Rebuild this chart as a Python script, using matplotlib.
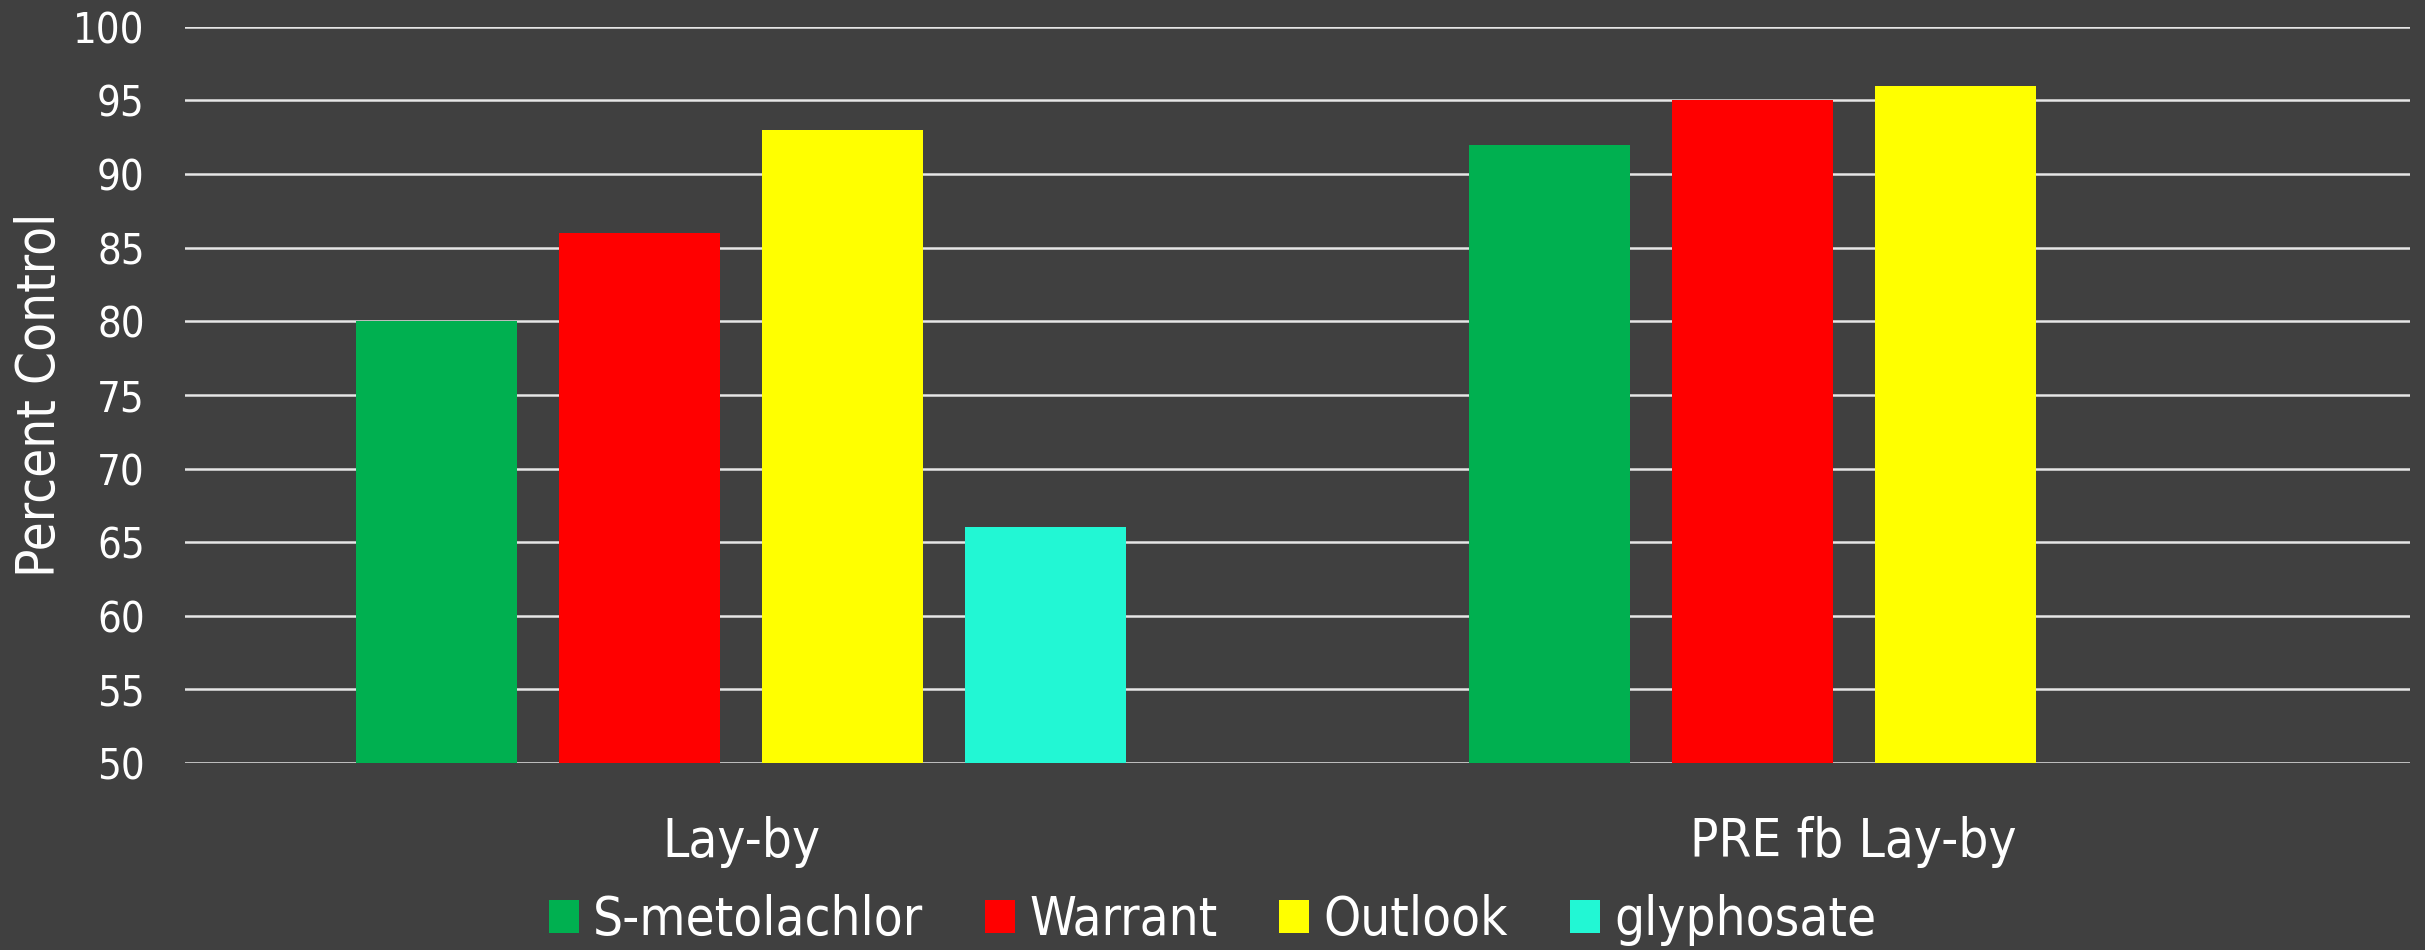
import numpy as np
import matplotlib.pyplot as plt

groups = ["Lay-by", "PRE fb Lay-by"]
treatments = ["S-metolachlor", "Warrant", "Outlook", "glyphosate"]
smetolachlor = [80, 92]
warrant = [86, 95]
outlook = [93, 96]
glyphosate = [66, np.nan]  # not applied in PRE fb Lay-by

series = [smetolachlor, warrant, outlook, glyphosate]
colors = ["#00b050", "#ff0000", "#ffff00", "#22f7d4"]
bg = "#404040"

plt.rcParams["font.family"] = ["DejaVu Sans"]
plt.rcParams["font.stretch"] = "condensed"

fig = plt.figure(figsize=(24.25, 9.5), dpi=100, facecolor=bg)
ax = fig.add_axes([0.0763, 0.1968, 0.9175, 0.7751], facecolor=bg)

x = np.arange(len(groups))
step = 0.1825
width = 0.145
for i, (vals, name, c) in enumerate(zip(series, treatments, colors)):
    ax.bar(x + (i - 1.5) * step, vals, width, color=c, label=name, zorder=3)

ax.set_xlim(-0.5, 1.5)
ax.set_ylim(50, 100)
ax.set_yticks(range(50, 101, 5))
ax.yaxis.grid(True, color="#e6e6e6", lw=1.8, zorder=0)
ax.set_axisbelow(True)
for s in ax.spines.values():
    s.set_visible(False)

ax.set_xticks(x)
ax.set_xticklabels(groups)
ax.tick_params(axis="x", length=0, pad=38, labelsize=38, labelcolor="white")
ax.tick_params(axis="y", length=0, pad=29, labelsize=30, labelcolor="white")
ax.set_ylabel("Percent Control", fontsize=38, color="white", va="center")
ax.yaxis.set_label_coords(-0.065, 0.5)

fig.legend(loc="center", bbox_to_anchor=(0.5, 1 - 920 / 950), ncol=4,
           frameon=False, fontsize=38, labelcolor="white",
           handlelength=0.57, handleheight=0.57, handletextpad=0.27,
           columnspacing=1.17)

fig.savefig("out.png", dpi=100, facecolor=bg)
